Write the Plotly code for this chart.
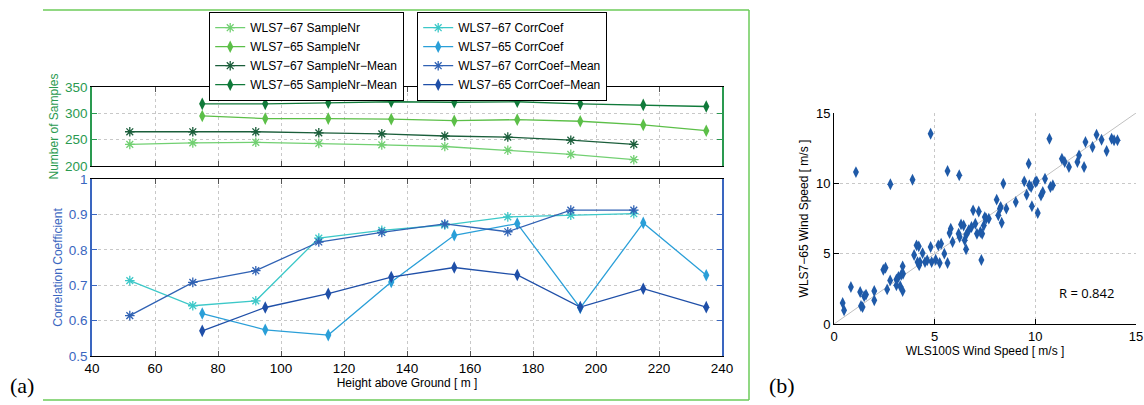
import plotly.graph_objects as go

# ---------------- data ----------------
h67 = [52, 72, 92, 112, 132, 152, 172, 192, 212]
h65 = [75, 95, 115, 135, 155, 175, 195, 215, 235]

n67 = [241, 244, 245, 243, 240, 237, 230, 222, 212]
n65 = [295, 290, 290, 289, 286, 288, 285, 278, 267]
n67_mean = [265, 265, 265, 263, 261, 257, 255, 249, 241]
n65_mean = [318, 318, 320, 322, 321, 322, 318, 316, 313]

r67 = [0.713, 0.642, 0.656, 0.833, 0.855, 0.870, 0.893, 0.898, 0.902]
r65 = [0.620, 0.574, 0.559, 0.709, 0.841, 0.874, 0.636, 0.876, 0.728]
r67_mean = [0.614, 0.708, 0.741, 0.822, 0.849, 0.873, 0.851, 0.912, 0.912]
r65_mean = [0.571, 0.637, 0.676, 0.723, 0.750, 0.729, 0.638, 0.690, 0.638]

ws100 = [0.43, 0.50, 0.84, 1.09, 1.30, 1.34, 1.42, 1.50, 1.59, 2.00, 2.00, 2.45, 2.56, 2.64,
         2.80, 2.79, 3.10, 3.10, 3.20, 3.29, 3.34, 3.41, 3.41, 3.43, 3.90, 3.98, 4.10, 4.21,
         4.15, 4.23, 4.27, 4.40, 4.52, 4.63, 4.80, 4.80, 4.85, 5.05, 5.18, 5.25, 5.32, 5.48,
         5.64, 5.64, 5.74, 5.80, 5.89, 6.22, 6.19, 6.24, 6.31, 6.44, 6.49, 6.56, 6.57, 6.69,
         6.83, 6.91, 7.02, 7.10, 7.19, 7.27, 7.32, 7.36, 7.44, 7.49, 7.56, 7.69, 8.08, 8.16,
         8.24, 8.28, 8.33, 8.41, 8.56, 9.03, 9.45, 9.57, 9.67, 9.70, 9.79, 9.83, 10.00, 10.12,
         10.07, 10.28, 10.37, 10.48, 10.70, 10.75, 10.87, 11.32, 11.46, 11.67, 12.09, 12.17,
         12.42, 12.49, 12.84, 13.04, 13.29, 13.54, 13.79, 13.91, 14.08]
ws65 = [1.49, 0.97, 2.63, 10.80, 2.27, 1.28, 1.20, 1.97, 2.09, 2.35, 1.68, 3.86, 4.00, 2.46,
        9.93, 3.10, 3.17, 2.75, 3.34, 2.68, 3.50, 4.10, 2.35, 3.57, 10.26, 4.90, 5.59, 5.52,
        4.40, 4.17, 4.40, 5.04, 4.40, 4.53, 5.47, 13.53, 4.40, 4.57, 5.59, 4.34, 5.70, 5.00,
        4.34, 10.88, 6.47, 6.78, 5.83, 10.57, 6.42, 6.18, 7.08, 7.00, 5.95, 5.31, 6.35, 6.66,
        6.90, 8.08, 7.13, 6.42, 8.00, 6.54, 4.55, 6.42, 7.00, 7.60, 7.49, 7.49, 8.84, 7.73,
        8.20, 8.32, 7.20, 9.98, 8.20, 8.67, 10.14, 9.19, 11.40, 9.86, 9.74, 8.37, 10.10, 7.89,
        10.14, 9.14, 9.38, 10.33, 13.17, 9.74, 9.86, 11.75, 11.52, 11.16, 11.52, 11.99,
        11.16, 12.94, 12.58, 13.46, 13.10, 12.30, 13.17, 13.06, 13.06]
diag = [0, 15]
r_text = "R = 0.842"

# ---------------- styling ----------------
W, H = 1144, 405
FONT = "Liberation Sans, Arial, sans-serif"
GREEN_AX = "#2a9a50"
BLUE_AX = "#3a66c0"
GRID = "#c8c8c8"

def px(x):
    return x / W

def py(y):
    return 1 - y / H

fig = go.Figure()

def add(x, y, name, color, symbol, xa, ya, legend, size=8):
    open_sym = symbol.startswith("asterisk")
    fig.add_trace(go.Scatter(
        x=x, y=y, name=name, mode="lines+markers",
        line=dict(color=color, width=1.3),
        marker=dict(symbol=symbol, size=size, color=color,
                    line=dict(color=color, width=1.3 if open_sym else 0)),
        xaxis=xa, yaxis=ya, legend=legend))

add(h67, n67, "WLS7−67 SampleNr", "#72d072", "asterisk-open", "x", "y", "legend")
add(h65, n65, "WLS7−65 SampleNr", "#5cbf48", "diamond-tall", "x", "y", "legend", 9)
add(h67, n67_mean, "WLS7−67 SampleNr−Mean", "#1b5e3b", "asterisk-open", "x", "y", "legend")
add(h65, n65_mean, "WLS7−65 SampleNr−Mean", "#107a3a", "diamond-tall", "x", "y", "legend", 9)

add(h67, r67, "WLS7−67 CorrCoef", "#3cc8c8", "asterisk-open", "x2", "y2", "legend2")
add(h65, r65, "WLS7−65 CorrCoef", "#2a9fd8", "diamond-tall", "x2", "y2", "legend2", 9)
add(h67, r67_mean, "WLS7−67 CorrCoef−Mean", "#3062b4", "asterisk-open", "x2", "y2", "legend2")
add(h65, r65_mean, "WLS7−65 CorrCoef−Mean", "#1f4fa8", "diamond-tall", "x2", "y2", "legend2", 9)

fig.add_trace(go.Scatter(x=diag, y=diag, mode="lines", line=dict(color="#c0c0c0", width=1),
                         xaxis="x3", yaxis="y3", showlegend=False, hoverinfo="skip"))
fig.add_trace(go.Scatter(x=ws100, y=ws65, mode="markers",
                         marker=dict(symbol="diamond-tall", size=8.5, color="#1f5aa8"),
                         xaxis="x3", yaxis="y3", showlegend=False))

common_x = dict(range=[40, 240], dtick=20, showgrid=True, gridcolor=GRID, griddash="dot",
                zeroline=False, ticks="inside", ticklen=5, tickcolor="#555555",
                showline=True, linecolor="black", linewidth=1, mirror="ticks",
                automargin=False, domain=[px(92), px(722)])

fig.update_layout(
    width=W, height=H, margin=dict(l=0, r=0, t=0, b=0, autoexpand=False),
    paper_bgcolor="white", plot_bgcolor="white",
    font=dict(family=FONT, size=13, color="black"),
    xaxis=dict(common_x, anchor="y", showticklabels=False),
    yaxis=dict(range=[200, 350], dtick=50, domain=[py(166), py(87)], anchor="x",
               showgrid=True, gridcolor=GRID, griddash="dot", zeroline=False,
               ticks="inside", ticklen=5, tickcolor=GREEN_AX, automargin=False,
               showline=True, linecolor=GREEN_AX, linewidth=1.5, mirror="ticks",
               tickfont=dict(color=GREEN_AX, size=13.5),
               title=dict(text="Number of Samples", font=dict(color=GREEN_AX, size=12), standoff=4)),
    xaxis2=dict(common_x, anchor="y2", tickfont=dict(size=13.5),
                title=dict(text="Height above Ground [ m ]", font=dict(size=12), standoff=0)),
    yaxis2=dict(range=[0.5, 1], dtick=0.1, domain=[py(356), py(179)], anchor="x2",
                showgrid=True, gridcolor=GRID, griddash="dot", zeroline=False,
                ticks="inside", ticklen=5, tickcolor=BLUE_AX, automargin=False,
                showline=True, linecolor=BLUE_AX, linewidth=1.5, mirror="ticks",
                tickfont=dict(color=BLUE_AX, size=13.5),
                title=dict(text="Correlation Coefficient", font=dict(color=BLUE_AX, size=12), standoff=4)),
    xaxis3=dict(range=[0, 15], dtick=5, domain=[px(834), px(1136)], anchor="y3",
                showgrid=True, gridcolor=GRID, griddash="dot", zeroline=False,
                ticks="inside", ticklen=5, tickcolor="black", automargin=False,
                showline=True, linecolor="black", linewidth=1,
                tickfont=dict(size=13),
                title=dict(text="WLS100S Wind Speed [ m/s ]", font=dict(size=12), standoff=0)),
    yaxis3=dict(range=[0, 15], dtick=5, domain=[py(324), py(113)], anchor="x3",
                showgrid=True, gridcolor=GRID, griddash="dot", zeroline=False,
                ticks="inside", ticklen=5, tickcolor="black", automargin=False,
                showline=True, linecolor="black", linewidth=1,
                tickfont=dict(size=13),
                title=dict(text="WLS7−65 Wind Speed [ m/s ]", font=dict(size=12), standoff=4)),
    legend=dict(x=px(209), y=py(12), xanchor="left", yanchor="top",
                bordercolor="black", borderwidth=1.2, bgcolor="white",
                font=dict(size=12), tracegroupgap=0, itemwidth=30),
    legend2=dict(x=px(417), y=py(12), xanchor="left", yanchor="top",
                 bordercolor="black", borderwidth=1.2, bgcolor="white",
                 font=dict(size=12), tracegroupgap=0, itemwidth=30),
    showlegend=True,
)

# decorative frame around panel (a)
frame = dict(type="line", xref="paper", yref="paper", line=dict(color="#6ccb5a", width=1.5))
fig.add_shape(frame, x0=px(43), x1=px(749), y0=py(10), y1=py(10))
fig.add_shape(frame, x0=px(749), x1=px(749), y0=py(10), y1=py(400))
fig.add_shape(frame, x0=px(43), x1=px(749), y0=py(400), y1=py(400))

fig.add_annotation(text="(a)", x=px(8), y=py(385), xref="paper", yref="paper",
                   xanchor="left", yanchor="middle", showarrow=False,
                   font=dict(family="Liberation Serif, Times New Roman, serif", size=22))
fig.add_annotation(text="(b)", x=px(767), y=py(385), xref="paper", yref="paper",
                   xanchor="left", yanchor="middle", showarrow=False,
                   font=dict(family="Liberation Serif, Times New Roman, serif", size=22))
fig.add_annotation(text=r_text, x=14.0, y=2.2, xref="x3", yref="y3",
                   xanchor="right", yanchor="middle", showarrow=False,
                   font=dict(family="Open Sans, sans-serif", size=13))

fig.write_html("out.html", config={"displayModeBar": False},
               post_script="document.body.style.margin='0px';")
